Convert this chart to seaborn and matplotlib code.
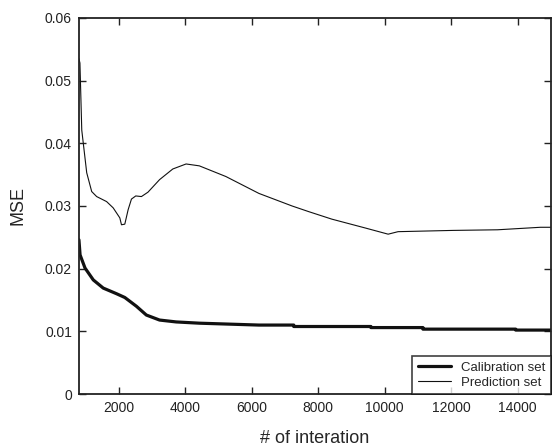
import pandas as pd
import matplotlib.pyplot as plt
import seaborn as sns

# values
pred_iter = [800, 830, 885, 1034, 1184, 1333, 1632, 1830, 2030, 2080, 2180, 2280,
             2380, 2510, 2680, 2877, 3226, 3624, 4024, 4422, 5220, 6216, 7212,
             7711, 8408, 9406, 10103, 10402, 12046, 13392, 14687, 15000]
pred_mse = [0.0535, 0.0528, 0.0421, 0.0353, 0.0323, 0.0315, 0.0307, 0.0297, 0.0281,
            0.0270, 0.0271, 0.0294, 0.0311, 0.0316, 0.0315, 0.0322, 0.0342, 0.0359,
            0.0367, 0.0364, 0.0347, 0.0320, 0.0300, 0.0291, 0.0279, 0.0265, 0.0255,
            0.0259, 0.0261, 0.0262, 0.0266, 0.0266]

cal_iter = [800, 834, 983, 1232, 1531, 1931, 2180, 2529, 2828, 3226, 3725, 4422,
            6216, 7263, 7263, 9585, 9585, 11150, 11150, 13940, 13940, 15000]
cal_mse = [0.0246, 0.0222, 0.0201, 0.0182, 0.0169, 0.0160, 0.0154, 0.0140, 0.0126,
           0.0118, 0.0115, 0.0113, 0.0110, 0.0110, 0.01077, 0.01077, 0.0106, 0.0106,
           0.01035, 0.01035, 0.0102, 0.0102]

x_ticks = [2000, 4000, 6000, 8000, 10000, 12000, 14000]
y_ticks = [0, 0.01, 0.02, 0.03, 0.04, 0.05, 0.06]
y_labels = ['0', '0.01', '0.02', '0.03', '0.04', '0.05', '0.06']

sns.set_style('ticks')
plt.rcParams['font.family'] = ['Liberation Sans', 'DejaVu Sans']

cal = pd.DataFrame({'iter': cal_iter, 'mse': cal_mse})
pred = pd.DataFrame({'iter': pred_iter, 'mse': pred_mse})

fig = plt.figure(figsize=(5.52, 4.48), dpi=100)
ax = fig.add_axes([0.143, 0.1205, 0.855, 0.8395])

sns.lineplot(data=cal, x='iter', y='mse', ax=ax, color='#111111', lw=2.3,
             sort=False, estimator=None, label='Calibration set')
sns.lineplot(data=pred, x='iter', y='mse', ax=ax, color='#111111', lw=0.8,
             sort=False, estimator=None, label='Prediction set')

ax.set_xlim(800, 15000)
ax.set_ylim(0, 0.06)
ax.set_xticks(x_ticks)
ax.set_xticklabels([str(t) for t in x_ticks])
ax.set_yticks(y_ticks)
ax.set_yticklabels(y_labels)
ax.tick_params(direction='in', length=5, width=1, labelsize=10, colors='#222222',
               top=True, right=True, pad=5)
for s in ax.spines.values():
    s.set_visible(True)
    s.set_linewidth(1.3)
    s.set_color('#222222')

ax.set_xlabel('# of interation', fontsize=13, labelpad=11)
ax.set_ylabel('MSE', fontsize=13, labelpad=13)

leg = ax.legend(loc='lower right', fontsize=9.5, frameon=True, fancybox=False,
                borderaxespad=0, handlelength=2.5, labelspacing=0.2,
                borderpad=0.4)
leg.get_frame().set_edgecolor('#111111')
leg.get_frame().set_linewidth(1.2)

fig.savefig('out.png', dpi=100)
